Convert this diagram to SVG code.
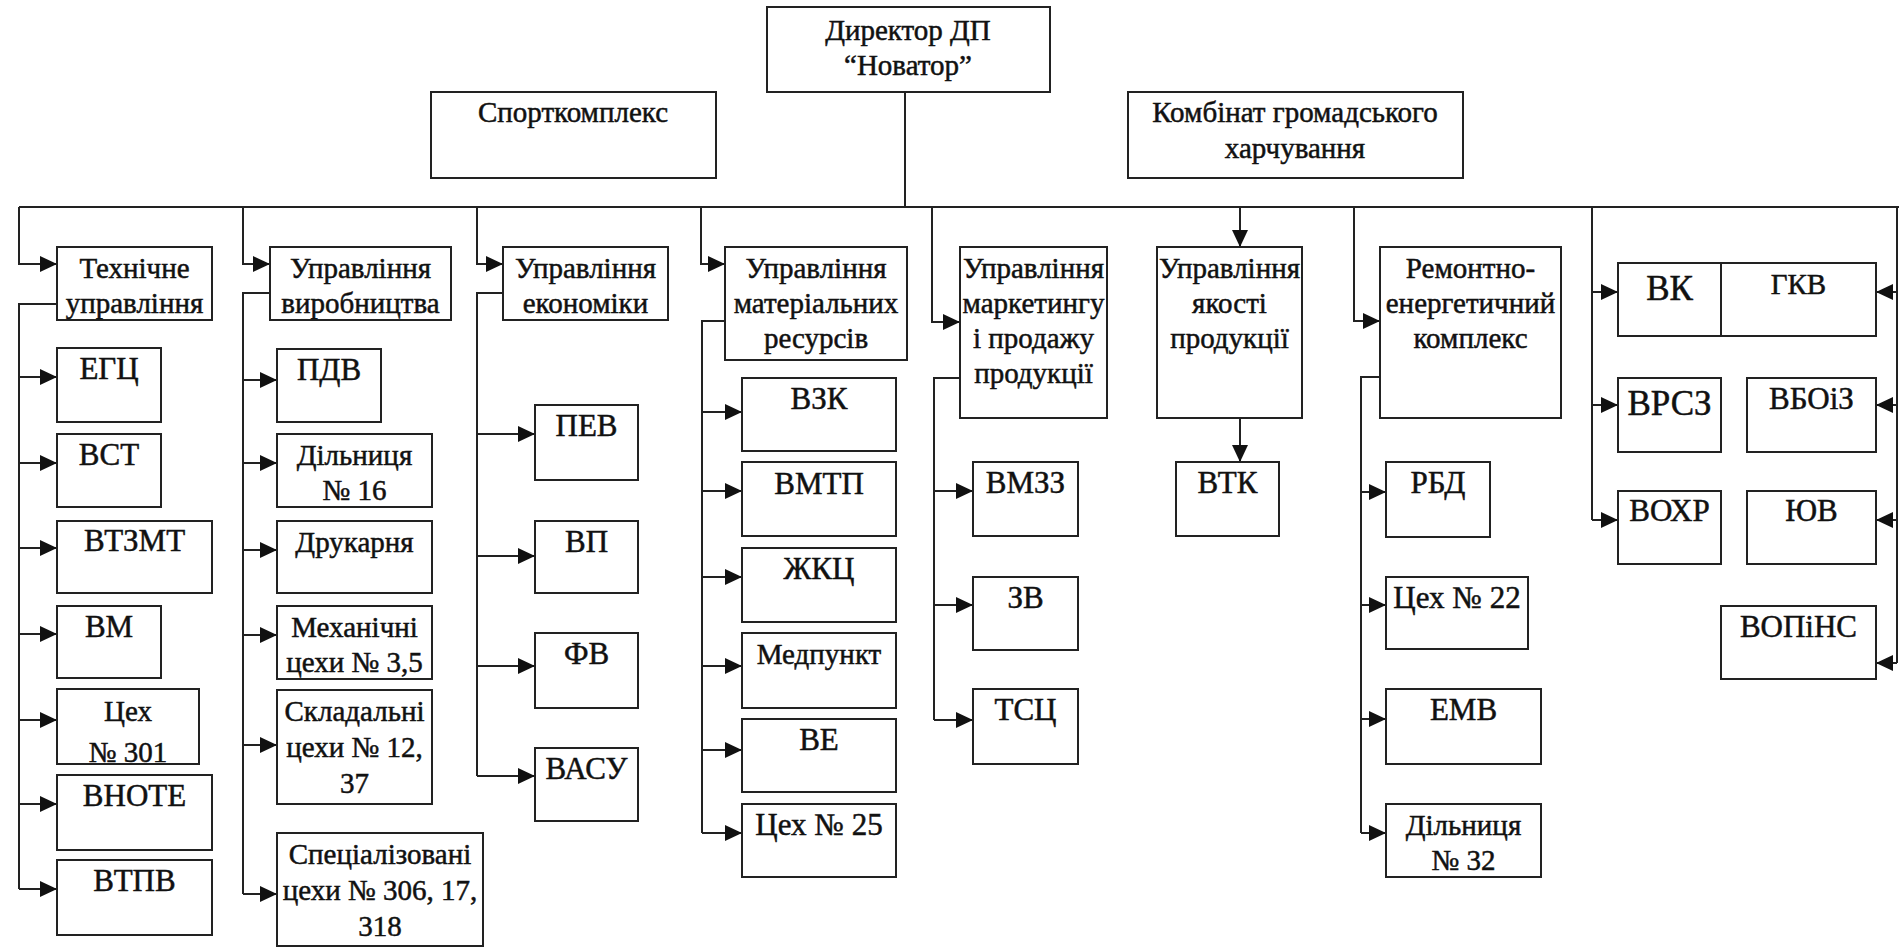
<svg xmlns="http://www.w3.org/2000/svg" width="1899" height="947" viewBox="0 0 1899 947">
<style>
.b{fill:#fff;stroke:#222;stroke-width:2}
.c{fill:none;stroke:#222;stroke-width:2}
.a{fill:none;stroke:#222;stroke-width:2;marker-end:url(#ar)}
text{fill:#111;stroke:#111;stroke-width:0.5;text-anchor:middle}
.t{font-size:29px}
.s{font-size:31px}
.l{font-size:35px}
</style>
<defs>
<marker id="ar" markerUnits="userSpaceOnUse" markerWidth="17" markerHeight="16" refX="17" refY="8" orient="auto"><path d="M0,0L17,8L0,16z" fill="#111"/></marker>
</defs>
<rect width="1899" height="947" fill="#fff"/>

<g id="connectors">
<path class="c" d="M905,92V207M19,207H1899"/>
<path class="a" d="M19,207V264H57"/>
<path class="a" d="M243,207V264H270"/>
<path class="a" d="M477,207V264H503"/>
<path class="a" d="M701,207V264H725"/>
<path class="a" d="M932,207V322H960"/>
<path class="a" d="M1240,207V247"/>
<path class="a" d="M1354,207V321H1380"/>
<path class="c" d="M1592,207V520M1897,207V663"/>
<path class="a" d="M1592,292H1618"/>
<path class="a" d="M1592,405H1618"/>
<path class="a" d="M1592,520H1618"/>
<path class="a" d="M1897,292H1876"/>
<path class="a" d="M1897,405H1876"/>
<path class="a" d="M1897,520H1876"/>
<path class="a" d="M1897,663H1876"/>
<path class="c" d="M57,304H19V889"/>
<path class="a" d="M19,377H57"/>
<path class="a" d="M19,463H57"/>
<path class="a" d="M19,548H57"/>
<path class="a" d="M19,634H57"/>
<path class="a" d="M19,720H57"/>
<path class="a" d="M19,804H57"/>
<path class="a" d="M19,889H57"/>
<path class="c" d="M270,293H243V894"/>
<path class="a" d="M243,380H277"/>
<path class="a" d="M243,463H277"/>
<path class="a" d="M243,550H277"/>
<path class="a" d="M243,635H277"/>
<path class="a" d="M243,745H277"/>
<path class="a" d="M243,894H277"/>
<path class="c" d="M503,293H477V776"/>
<path class="a" d="M477,434H535"/>
<path class="a" d="M477,556H535"/>
<path class="a" d="M477,666H535"/>
<path class="a" d="M477,776H535"/>
<path class="c" d="M725,321H702V833"/>
<path class="a" d="M702,412H742"/>
<path class="a" d="M702,491H742"/>
<path class="a" d="M702,577H742"/>
<path class="a" d="M702,666H742"/>
<path class="a" d="M702,750H742"/>
<path class="a" d="M702,833H742"/>
<path class="c" d="M960,378H934V720"/>
<path class="a" d="M934,491H973"/>
<path class="a" d="M934,605H973"/>
<path class="a" d="M934,720H973"/>
<path class="a" d="M1240,418V462"/>
<path class="c" d="M1380,377H1361V833"/>
<path class="a" d="M1361,492H1386"/>
<path class="a" d="M1361,605H1386"/>
<path class="a" d="M1361,719H1386"/>
<path class="a" d="M1361,833H1386"/>
</g>

<g font-family="Liberation Serif, Times New Roman, DejaVu Serif, serif">
<g id="director"><rect class="b" x="767" y="7" width="283" height="85"/><text class="t" x="908" y="40">Директор ДП</text><text class="t" x="908" y="75">“Новатор”</text></g>
<g id="sport"><rect class="b" x="431" y="92" width="285" height="86"/><text class="t" x="573" y="122">Спорткомплекс</text></g>
<g id="kombinat"><rect class="b" x="1128" y="92" width="335" height="86"/><text class="t" x="1295" y="122">Комбінат громадського</text><text class="t" x="1295" y="158">харчування</text></g>

<g id="tekh"><rect class="b" x="57" y="247" width="155" height="73"/><text class="t" x="134.5" y="278">Технічне</text><text class="t" x="134.5" y="313">управління</text></g>
<g id="vyrob"><rect class="b" x="270" y="247" width="181" height="73"/><text class="t" x="360.5" y="278">Управління</text><text class="t" x="360.5" y="313">виробництва</text></g>
<g id="ekon"><rect class="b" x="503" y="247" width="165" height="73"/><text class="t" x="585.5" y="278">Управління</text><text class="t" x="585.5" y="313">економіки</text></g>
<g id="mater"><rect class="b" x="725" y="247" width="182" height="113"/><text class="t" x="816" y="278">Управління</text><text class="t" x="816" y="313">матеріальних</text><text class="t" x="816" y="348">ресурсів</text></g>
<g id="market"><rect class="b" x="960" y="247" width="147" height="171"/><text class="t" x="1033.5" y="278">Управління</text><text class="t" x="1033.5" y="313">маркетингу</text><text class="t" x="1033.5" y="348">і продажу</text><text class="t" x="1033.5" y="383">продукції</text></g>
<g id="yakist"><rect class="b" x="1157" y="247" width="145" height="171"/><text class="t" x="1229.5" y="278">Управління</text><text class="t" x="1229.5" y="313">якості</text><text class="t" x="1229.5" y="348">продукції</text></g>
<g id="remont"><rect class="b" x="1380" y="247" width="181" height="171"/><text class="t" x="1470.5" y="278">Ремонтно-</text><text class="t" x="1470.5" y="313">енергетичний</text><text class="t" x="1470.5" y="348">комплекс</text></g>

<g id="egc"><rect class="b" x="57" y="348" width="104" height="74"/><text class="s" x="109" y="379">ЕГЦ</text></g>
<g id="vst"><rect class="b" x="57" y="434" width="104" height="73"/><text class="s" x="109" y="465">ВСТ</text></g>
<g id="vtzmt"><rect class="b" x="57" y="521" width="155" height="72"/><text class="s" x="134.5" y="551">ВТЗМТ</text></g>
<g id="vm"><rect class="b" x="57" y="606" width="104" height="72"/><text class="s" x="109" y="637">ВМ</text></g>
<g id="cekh301"><rect class="b" x="57" y="689" width="142" height="75"/><text class="t" x="128" y="721">Цех</text><text class="t" x="128" y="762">№ 301</text></g>
<g id="vnote"><rect class="b" x="57" y="775" width="155" height="75"/><text class="s" x="134.5" y="806">ВНОТЕ</text></g>
<g id="vtpv"><rect class="b" x="57" y="860" width="155" height="75"/><text class="s" x="134.5" y="891">ВТПВ</text></g>

<g id="pdv"><rect class="b" x="277" y="349" width="104" height="73"/><text class="s" x="329" y="380">ПДВ</text></g>
<g id="dil16"><rect class="b" x="277" y="434" width="155" height="73"/><text class="t" x="354.5" y="465">Дільниця</text><text class="t" x="354.5" y="500">№ 16</text></g>
<g id="drukarnia"><rect class="b" x="277" y="521" width="155" height="72"/><text class="t" x="354.5" y="552">Друкарня</text></g>
<g id="mekh"><rect class="b" x="277" y="606" width="155" height="73"/><text class="t" x="354.5" y="637">Механічні</text><text class="t" x="354.5" y="672">цехи № 3,5</text></g>
<g id="sklad"><rect class="b" x="277" y="690" width="155" height="114"/><text class="t" x="354.5" y="721">Складальні</text><text class="t" x="354.5" y="757">цехи № 12,</text><text class="t" x="354.5" y="793">37</text></g>
<g id="spec"><rect class="b" x="277" y="833" width="206" height="113"/><text class="t" x="380" y="864">Спеціалізовані</text><text class="t" x="380" y="900">цехи № 306, 17,</text><text class="t" x="380" y="936">318</text></g>

<g id="pev"><rect class="b" x="535" y="405" width="103" height="75"/><text class="s" x="586.5" y="436">ПЕВ</text></g>
<g id="vp"><rect class="b" x="535" y="521" width="103" height="72"/><text class="s" x="586.5" y="552">ВП</text></g>
<g id="fv"><rect class="b" x="535" y="633" width="103" height="75"/><text class="s" x="586.5" y="664">ФВ</text></g>
<g id="vasu"><rect class="b" x="535" y="748" width="103" height="73"/><text class="s" x="586.5" y="779">ВАСУ</text></g>

<g id="vzk"><rect class="b" x="742" y="378" width="154" height="73"/><text class="s" x="819" y="409">ВЗК</text></g>
<g id="vmtp"><rect class="b" x="742" y="462" width="154" height="74"/><text class="s" x="819" y="494">ВМТП</text></g>
<g id="zhkc"><rect class="b" x="742" y="548" width="154" height="74"/><text class="s" x="819" y="579">ЖКЦ</text></g>
<g id="medpunkt"><rect class="b" x="742" y="633" width="154" height="75"/><text class="t" x="819" y="664">Медпункт</text></g>
<g id="ve"><rect class="b" x="742" y="719" width="154" height="73"/><text class="s" x="819" y="750">ВЕ</text></g>
<g id="cekh25"><rect class="b" x="742" y="804" width="154" height="73"/><text class="s" x="819" y="835">Цех № 25</text></g>

<g id="vmzz"><rect class="b" x="973" y="462" width="105" height="74"/><text class="s" x="1025.5" y="493">ВМЗЗ</text></g>
<g id="zv"><rect class="b" x="973" y="577" width="105" height="73"/><text class="s" x="1025.5" y="608">ЗВ</text></g>
<g id="tsc"><rect class="b" x="973" y="689" width="105" height="75"/><text class="s" x="1025.5" y="720">ТСЦ</text></g>

<g id="vtk"><rect class="b" x="1176" y="462" width="103" height="74"/><text class="s" x="1227.5" y="493">ВТК</text></g>

<g id="rbd"><rect class="b" x="1386" y="462" width="104" height="75"/><text class="s" x="1438" y="493">РБД</text></g>
<g id="cekh22"><rect class="b" x="1386" y="577" width="142" height="72"/><text class="s" x="1457" y="608">Цех № 22</text></g>
<g id="emv"><rect class="b" x="1386" y="689" width="155" height="75"/><text class="s" x="1463.5" y="720">ЕМВ</text></g>
<g id="dil32"><rect class="b" x="1386" y="804" width="155" height="73"/><text class="t" x="1463.5" y="835">Дільниця</text><text class="t" x="1463.5" y="870">№ 32</text></g>

<g id="vk-gkv"><rect class="b" x="1618" y="263" width="258" height="73"/><path class="c" d="M1721,263V336"/><text class="l" x="1669.5" y="300">ВК</text><text class="t" x="1798.5" y="294">ГКВ</text></g>
<g id="vrsz"><rect class="b" x="1618" y="378" width="103" height="74"/><text class="l" x="1669.5" y="415">ВРСЗ</text></g>
<g id="vboiz"><rect class="b" x="1747" y="378" width="129" height="74"/><text class="s" x="1811.5" y="409">ВБОіЗ</text></g>
<g id="vokhr"><rect class="b" x="1618" y="491" width="103" height="73"/><text class="s" x="1669.5" y="521">ВОХР</text></g>
<g id="yuv"><rect class="b" x="1747" y="491" width="129" height="73"/><text class="s" x="1811.5" y="521">ЮВ</text></g>
<g id="vopins"><rect class="b" x="1721" y="606" width="155" height="73"/><text class="s" x="1798.5" y="637">ВОПіНС</text></g>
</g>
</svg>
